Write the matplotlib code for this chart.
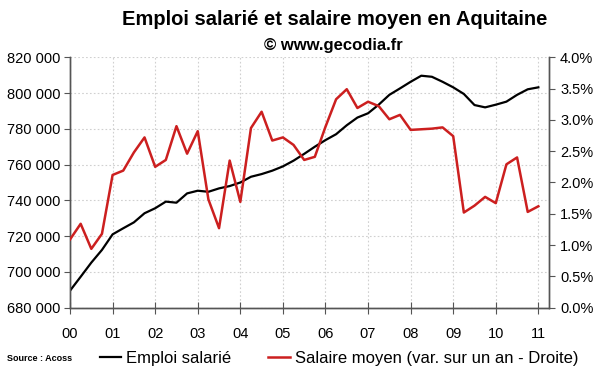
import numpy as np
import matplotlib.pyplot as plt
from matplotlib.lines import Line2D
from matplotlib.ticker import FuncFormatter

plt.rcParams['font.family'] = ['Liberation Sans', 'DejaVu Sans']

# trimestres 2000T1 -> 2011T1
year_labels = ['00', '01', '02', '03', '04', '05', '06', '07', '08', '09', '10', '11']

# emploi salarié (milliers)
emploi = [689.5, 697.3, 705.2, 712.3, 721.0, 724.4, 727.7, 732.8, 735.6, 739.3,
          738.7, 743.9, 745.4, 744.8, 746.7, 748.0, 750.0, 753.2, 754.7, 756.6,
          759.0, 762.2, 766.0, 770.0, 773.7, 777.0, 782.0, 786.3, 788.7, 793.5,
          799.0, 802.6, 806.3, 809.7, 809.1, 806.3, 803.2, 799.5, 793.3, 792.0,
          793.5, 795.2, 799.0, 802.1, 803.2]

# salaire moyen, var. sur un an (%)
salaire = [1.09, 1.34, 0.94, 1.18, 2.12, 2.19, 2.48, 2.72, 2.25, 2.36,
           2.90, 2.46, 2.82, 1.73, 1.27, 2.35, 1.69, 2.87, 3.13, 2.67,
           2.72, 2.60, 2.36, 2.41, 2.89, 3.33, 3.49, 3.19, 3.29, 3.22,
           3.01, 3.08, 2.84, 2.85, 2.86, 2.88, 2.74, 1.52, 1.63, 1.77,
           1.67, 2.29, 2.40, 1.53, 1.62]

x = np.arange(len(emploi)) / 4.0

fig = plt.figure(figsize=(6, 3.72), dpi=100)
ax = fig.add_axes([0.1167, 0.1729, 0.7983, 0.6731])
ax2 = ax.twinx()

ax.plot(x, np.array(emploi) * 1000, color='black', lw=1.6, zorder=3)
ax2.plot(x, salaire, color='#cc1f1f', lw=1.8, zorder=3)

ax.set_xlim(0, 11.25)
ax.set_ylim(680000, 820000)
ax.set_yticks(np.arange(680000, 820001, 20000))
ax.yaxis.set_major_formatter(FuncFormatter(lambda v, p: f'{int(v):,}'.replace(',', ' ')))
ax.set_xticks(range(len(year_labels)))
ax.set_xticklabels(year_labels)

ax2.set_ylim(0, 4)
ax2.set_yticks(np.arange(0, 4.01, 0.5))
ax2.yaxis.set_major_formatter(FuncFormatter(lambda v, p: f'{v:.1f}%'))

ax.grid(True, color='#d0d0d0', ls=(0, (1.5, 2)), lw=0.8)
ax.set_axisbelow(True)

for a in (ax, ax2):
    a.spines['top'].set_visible(False)
    for s in ('left', 'right', 'bottom'):
        a.spines[s].set_color('#555555')
        a.spines[s].set_linewidth(1.0)

ax.tick_params(axis='x', direction='inout', length=8, pad=10, labelsize=10.5, color='#555555')
ax.tick_params(axis='y', direction='out', length=4, pad=3, labelsize=10.5, color='#555555')
ax2.tick_params(axis='y', direction='out', length=4, pad=4, labelsize=10.5, color='#555555')

fig.text(0.558, 0.948, 'Emploi salarié et salaire moyen en Aquitaine',
         ha='center', va='center', fontsize=14.5, fontweight='bold')
fig.text(0.555, 0.878, '© www.gecodia.fr', ha='center', va='center',
         fontsize=12, fontweight='bold')
fig.text(0.012, 0.037, 'Source : Acoss', ha='left', va='center',
         fontsize=6.5, fontweight='bold')

handles = [Line2D([], [], color='black', lw=1.6),
           Line2D([], [], color='#cc1f1f', lw=1.8)]
fig.legend(handles, ['Emploi salarié', 'Salaire moyen (var. sur un an - Droite)'],
           loc='center left', bbox_to_anchor=(0.152, 0.037), ncol=2, frameon=False,
           fontsize=12, handlelength=1.3, handletextpad=0.3, columnspacing=2.2,
           borderpad=0)

fig.savefig('out.png', dpi=100)
